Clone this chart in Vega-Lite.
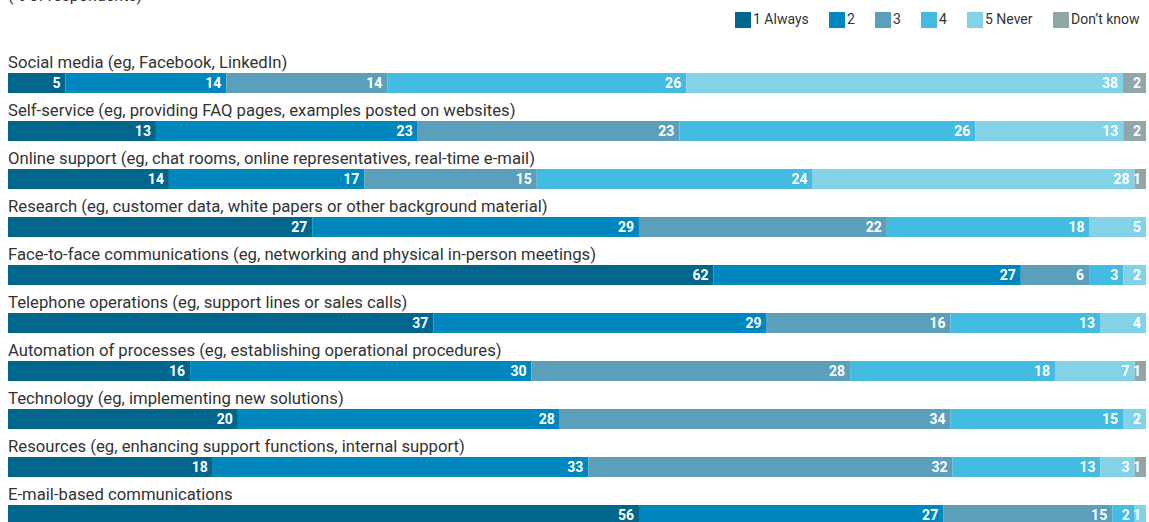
{
  "$schema": "https://vega.github.io/schema/vega-lite/v6.json",
  "width": 1138,
  "height": 480,
  "autosize": {"type": "none"},
  "padding": {"left": 8, "top": 59, "right": 3, "bottom": 0},
  "background": "white",
  "config": {
    "font": "Roboto, sans-serif",
    "view": {"stroke": null}
  },
  "title": {
    "text": "(% of respondents)",
    "anchor": "start",
    "frame": "group",
    "offset": 8,
    "fontSize": 16,
    "fontWeight": "normal",
    "color": "#333333"
  },
  "data": {
    "values": [
      {"item": "Social media (eg, Facebook, LinkedIn)", "response": "1 Always", "rank": 1, "value": 5},
      {"item": "Social media (eg, Facebook, LinkedIn)", "response": "2", "rank": 2, "value": 14},
      {"item": "Social media (eg, Facebook, LinkedIn)", "response": "3", "rank": 3, "value": 14},
      {"item": "Social media (eg, Facebook, LinkedIn)", "response": "4", "rank": 4, "value": 26},
      {"item": "Social media (eg, Facebook, LinkedIn)", "response": "5 Never", "rank": 5, "value": 38},
      {"item": "Social media (eg, Facebook, LinkedIn)", "response": "Don’t know", "rank": 6, "value": 2},
      {"item": "Self-service (eg, providing FAQ pages, examples posted on websites)", "response": "1 Always", "rank": 1, "value": 13},
      {"item": "Self-service (eg, providing FAQ pages, examples posted on websites)", "response": "2", "rank": 2, "value": 23},
      {"item": "Self-service (eg, providing FAQ pages, examples posted on websites)", "response": "3", "rank": 3, "value": 23},
      {"item": "Self-service (eg, providing FAQ pages, examples posted on websites)", "response": "4", "rank": 4, "value": 26},
      {"item": "Self-service (eg, providing FAQ pages, examples posted on websites)", "response": "5 Never", "rank": 5, "value": 13},
      {"item": "Self-service (eg, providing FAQ pages, examples posted on websites)", "response": "Don’t know", "rank": 6, "value": 2},
      {"item": "Online support (eg, chat rooms, online representatives, real-time e-mail)", "response": "1 Always", "rank": 1, "value": 14},
      {"item": "Online support (eg, chat rooms, online representatives, real-time e-mail)", "response": "2", "rank": 2, "value": 17},
      {"item": "Online support (eg, chat rooms, online representatives, real-time e-mail)", "response": "3", "rank": 3, "value": 15},
      {"item": "Online support (eg, chat rooms, online representatives, real-time e-mail)", "response": "4", "rank": 4, "value": 24},
      {"item": "Online support (eg, chat rooms, online representatives, real-time e-mail)", "response": "5 Never", "rank": 5, "value": 28},
      {"item": "Online support (eg, chat rooms, online representatives, real-time e-mail)", "response": "Don’t know", "rank": 6, "value": 1},
      {"item": "Research (eg, customer data, white papers or other background material)", "response": "1 Always", "rank": 1, "value": 27},
      {"item": "Research (eg, customer data, white papers or other background material)", "response": "2", "rank": 2, "value": 29},
      {"item": "Research (eg, customer data, white papers or other background material)", "response": "3", "rank": 3, "value": 22},
      {"item": "Research (eg, customer data, white papers or other background material)", "response": "4", "rank": 4, "value": 18},
      {"item": "Research (eg, customer data, white papers or other background material)", "response": "5 Never", "rank": 5, "value": 5},
      {"item": "Face-to-face communications (eg, networking and physical in-person meetings)", "response": "1 Always", "rank": 1, "value": 62},
      {"item": "Face-to-face communications (eg, networking and physical in-person meetings)", "response": "2", "rank": 2, "value": 27},
      {"item": "Face-to-face communications (eg, networking and physical in-person meetings)", "response": "3", "rank": 3, "value": 6},
      {"item": "Face-to-face communications (eg, networking and physical in-person meetings)", "response": "4", "rank": 4, "value": 3},
      {"item": "Face-to-face communications (eg, networking and physical in-person meetings)", "response": "5 Never", "rank": 5, "value": 2},
      {"item": "Telephone operations (eg, support lines or sales calls)", "response": "1 Always", "rank": 1, "value": 37},
      {"item": "Telephone operations (eg, support lines or sales calls)", "response": "2", "rank": 2, "value": 29},
      {"item": "Telephone operations (eg, support lines or sales calls)", "response": "3", "rank": 3, "value": 16},
      {"item": "Telephone operations (eg, support lines or sales calls)", "response": "4", "rank": 4, "value": 13},
      {"item": "Telephone operations (eg, support lines or sales calls)", "response": "5 Never", "rank": 5, "value": 4},
      {"item": "Automation of processes (eg, establishing operational procedures)", "response": "1 Always", "rank": 1, "value": 16},
      {"item": "Automation of processes (eg, establishing operational procedures)", "response": "2", "rank": 2, "value": 30},
      {"item": "Automation of processes (eg, establishing operational procedures)", "response": "3", "rank": 3, "value": 28},
      {"item": "Automation of processes (eg, establishing operational procedures)", "response": "4", "rank": 4, "value": 18},
      {"item": "Automation of processes (eg, establishing operational procedures)", "response": "5 Never", "rank": 5, "value": 7},
      {"item": "Automation of processes (eg, establishing operational procedures)", "response": "Don’t know", "rank": 6, "value": 1},
      {"item": "Technology (eg, implementing new solutions)", "response": "1 Always", "rank": 1, "value": 20},
      {"item": "Technology (eg, implementing new solutions)", "response": "2", "rank": 2, "value": 28},
      {"item": "Technology (eg, implementing new solutions)", "response": "3", "rank": 3, "value": 34},
      {"item": "Technology (eg, implementing new solutions)", "response": "4", "rank": 4, "value": 15},
      {"item": "Technology (eg, implementing new solutions)", "response": "5 Never", "rank": 5, "value": 2},
      {"item": "Resources (eg, enhancing support functions, internal support)", "response": "1 Always", "rank": 1, "value": 18},
      {"item": "Resources (eg, enhancing support functions, internal support)", "response": "2", "rank": 2, "value": 33},
      {"item": "Resources (eg, enhancing support functions, internal support)", "response": "3", "rank": 3, "value": 32},
      {"item": "Resources (eg, enhancing support functions, internal support)", "response": "4", "rank": 4, "value": 13},
      {"item": "Resources (eg, enhancing support functions, internal support)", "response": "5 Never", "rank": 5, "value": 3},
      {"item": "Resources (eg, enhancing support functions, internal support)", "response": "Don’t know", "rank": 6, "value": 1},
      {"item": "E-mail-based communications", "response": "1 Always", "rank": 1, "value": 56},
      {"item": "E-mail-based communications", "response": "2", "rank": 2, "value": 27},
      {"item": "E-mail-based communications", "response": "3", "rank": 3, "value": 15},
      {"item": "E-mail-based communications", "response": "4", "rank": 4, "value": 2},
      {"item": "E-mail-based communications", "response": "5 Never", "rank": 5, "value": 1}
    ]
  },
  "encoding": {
    "y": {
      "field": "item",
      "type": "nominal",
      "sort": [
        "Social media (eg, Facebook, LinkedIn)",
        "Self-service (eg, providing FAQ pages, examples posted on websites)",
        "Online support (eg, chat rooms, online representatives, real-time e-mail)",
        "Research (eg, customer data, white papers or other background material)",
        "Face-to-face communications (eg, networking and physical in-person meetings)",
        "Telephone operations (eg, support lines or sales calls)",
        "Automation of processes (eg, establishing operational procedures)",
        "Technology (eg, implementing new solutions)",
        "Resources (eg, enhancing support functions, internal support)",
        "E-mail-based communications"
      ],
      "axis": null,
      "scale": {"paddingInner": 0.5833, "paddingOuter": 0.2917}
    }
  },
  "layer": [
    {
      "mark": {"type": "bar"},
      "encoding": {
        "x": {"field": "value", "type": "quantitative", "stack": "normalize", "axis": null, "scale": {"nice": false}},
        "color": {
          "field": "response",
          "type": "nominal",
          "scale": {
            "domain": ["1 Always", "2", "3", "4", "5 Never", "Don’t know"],
            "range": ["#00668c", "#0088be", "#5b9fba", "#44bbe0", "#82d2e8", "#8fa8a7"]
          },
          "legend": {
            "orient": "none",
            "legendX": 727,
            "legendY": -47,
            "direction": "horizontal",
            "title": null,
            "symbolType": "square",
            "symbolSize": 256,
            "symbolStrokeWidth": 0,
            "symbolOpacity": 1,
            "labelFontSize": 14,
            "labelColor": "#333333",
            "labelOffset": 2,
            "columnPadding": 20
          }
        },
        "order": {"field": "rank", "type": "quantitative"}
      }
    },
    {
      "mark": {"type": "text", "align": "right", "baseline": "middle", "dx": -5, "dy": 1, "color": "white", "fontWeight": "bold", "fontSize": 14},
      "encoding": {
        "x": {"field": "value", "type": "quantitative", "stack": "normalize"},
        "detail": {"field": "response"},
        "text": {"field": "value", "type": "quantitative"},
        "order": {"field": "rank", "type": "quantitative"}
      }
    },
    {
      "transform": [{"filter": "datum.rank == 1"}],
      "mark": {"type": "text", "align": "left", "baseline": "alphabetic", "dy": -5, "color": "#333333", "fontSize": 16.7},
      "encoding": {
        "x": {"datum": 0},
        "y": {"field": "item", "type": "nominal", "sort": [
          "Social media (eg, Facebook, LinkedIn)",
          "Self-service (eg, providing FAQ pages, examples posted on websites)",
          "Online support (eg, chat rooms, online representatives, real-time e-mail)",
          "Research (eg, customer data, white papers or other background material)",
          "Face-to-face communications (eg, networking and physical in-person meetings)",
          "Telephone operations (eg, support lines or sales calls)",
          "Automation of processes (eg, establishing operational procedures)",
          "Technology (eg, implementing new solutions)",
          "Resources (eg, enhancing support functions, internal support)",
          "E-mail-based communications"
        ], "axis": null, "bandPosition": 0},
        "text": {"field": "item"}
      }
    }
  ]
}
